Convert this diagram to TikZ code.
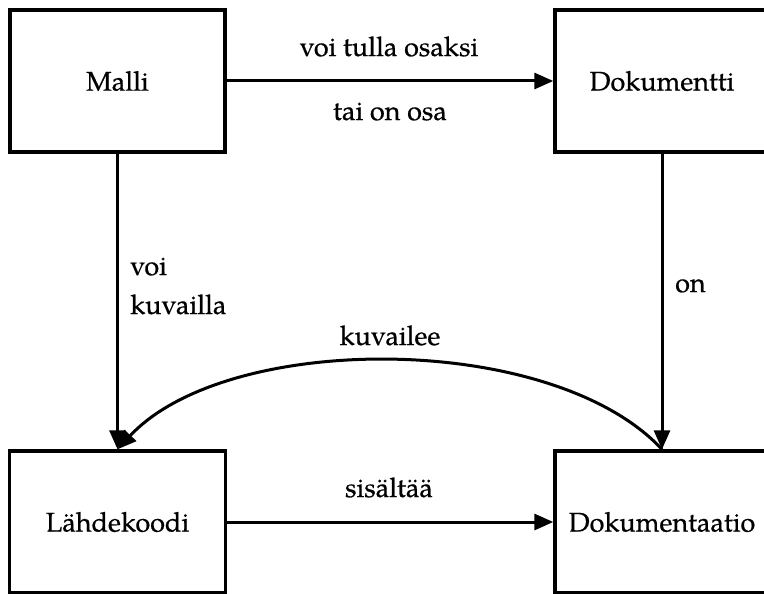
\documentclass[tikz,border=0pt]{standalone}
\usepackage{fontspec}
\setmainfont{TeX Gyre Pagella}[FakeBold=0.6]
\usetikzlibrary{arrows.meta}
\begin{document}
\begin{tikzpicture}[x=1pt,y=1pt,
  box/.style={draw, line width=3.4pt, minimum width=215pt, minimum height=142pt,
              inner sep=0pt, font=\fontsize{27}{32}\selectfont},
  link/.style={line width=3pt, -{Triangle[length=19pt,width=16pt]}},
  lbl/.style={inner sep=0pt, font=\fontsize{27}{32}\selectfont}]
% canvas, with the right-hand boxes running past its edge
\path[use as bounding box, clip] (0,0) rectangle (764,-594);

% the four concepts
\node[box] (malli) at (117.5,-81) {Malli};
\node[box, minimum width=214pt] (dok) at (662,-81) {Dokumentti};
\node[box, minimum width=216pt] (lk) at (117.5,-522) {Lähdekoodi};
\node[box, minimum width=214pt] (dta) at (662,-522) {Dokumentaatio};

% relations
\draw[link] (malli.east) -- (dok.west);
\draw[link] (malli.south) -- (lk.north);
\draw[link] (dok.south) -- (dta.north);
\draw[link] (lk.east) -- (dta.west);
\draw[link] (dta.north) to[out=133, in=47, looseness=0.76] (lk.north);

% relation labels
\node[lbl, anchor=base] (tulla) at (389,-56) {voi tulla osaksi};
\node[lbl, anchor=base] (osa) at (390,-120) {tai on osa};
\node[lbl, anchor=base west] (voi) at (130,-275) {voi};
\node[lbl, anchor=base west] (kuvailla) at (130,-314) {kuvailla};
\node[lbl, anchor=base west] (on) at (675,-292) {on};
\node[lbl, anchor=base] (kuvailee) at (390,-345) {kuvailee};
\node[lbl, anchor=base] (sisaltaa) at (389,-497) {sisältää};
\end{tikzpicture}
\end{document}
